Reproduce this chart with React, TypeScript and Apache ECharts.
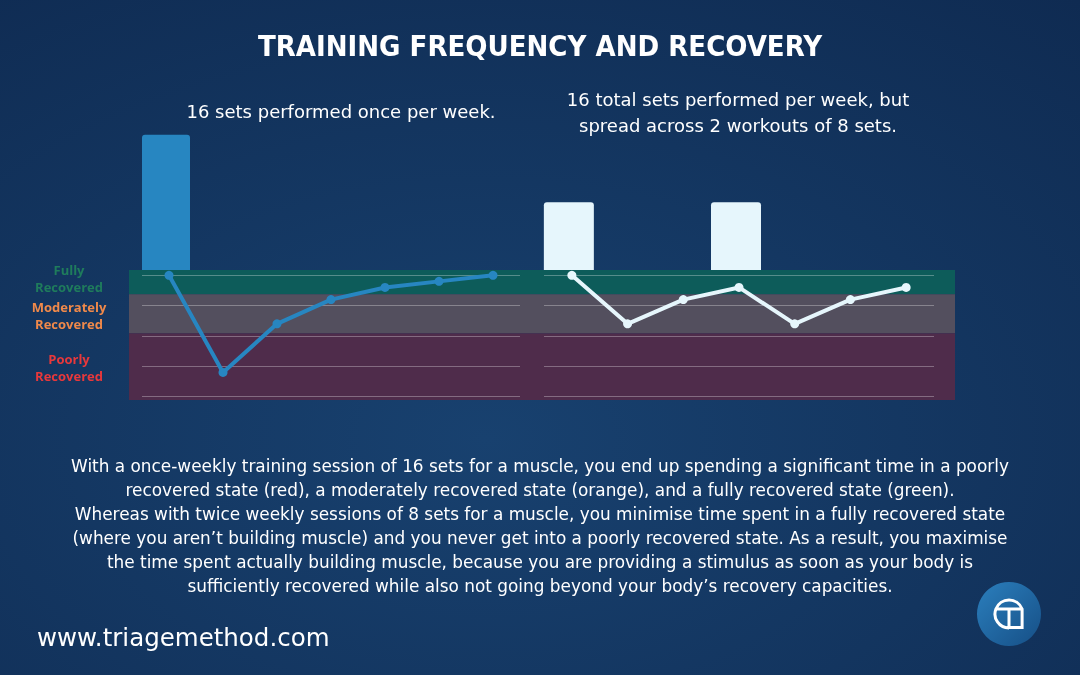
import React, { useEffect, useRef } from "react";
import * as echarts from "echarts";

// ---- data ----
const days = ["D1", "D2", "D3", "D4", "D5", "D6", "D7"];
const onceSets = [16, null, null, null, null, null, null];
const onceRecovery = [100, 20, 60, 80, 90, 95, 100];
const twiceSets = [8, null, null, 8, null, null, null];
const twiceRecovery = [100, 60, 80, 90, 60, 80, 90];
const zoneNames = ["Fully\nRecovered", "Moderately\nRecovered", "Poorly\nRecovered"];
const zoneUpper = [104, 84, 52];
const zoneLower = [84, 52, -3];

const titleText = "TRAINING FREQUENCY AND RECOVERY";
const leftCaption = "16 sets performed once per week.";
const rightCaption = "16 total sets performed per week, but\nspread across 2 workouts of 8 sets.";
const bodyLines = [
  "With a once-weekly training session of 16 sets for a muscle, you end up spending a significant time in a poorly",
  "recovered state (red), a moderately recovered state (orange), and a fully recovered state (green).",
  "Whereas with twice weekly sessions of 8 sets for a muscle, you minimise time spent in a fully recovered state",
  "(where you aren\u2019t building muscle) and you never get into a poorly recovered state. As a result, you maximise",
  "the time spent actually building muscle, because you are providing a stimulus as soon as your body is",
  "sufficiently recovered while also not going beyond your body\u2019s recovery capacities.",
];
const footerText = "www.triagemethod.com";

const zoneColors = ["#0d5c5a", "#534f5e", "#4f2c4b"];
const zoneTextColors = ["#1f7c5c", "#f0894a", "#e8383b"];
const BLUE = "#2786c1";
const PALE = "#e6f6fc";

const LOGO_D =
  "M -13.1 -5 A 14 14 0 0 1 13.1 -5 L 13.1 13.5 L 0 13.5 M 0 14 A 14 14 0 0 1 -13.1 -5 M -14 -5 L 14 -5 M 0 -5 L 0 14";

let logoRegistered = false;

export default function App() {
  const ref = useRef<HTMLDivElement>(null);
  useEffect(() => {
    if (!ref.current) return;
    if (!logoRegistered) {
      echarts.graphic.registerShape("logo", echarts.graphic.extendPath(LOGO_D, {}));
      logoRegistered = true;
    }
    const chart = echarts.init(ref.current, null, { renderer: "svg" });
    const font = "'DejaVu Sans', sans-serif";

    const lineGridTop = 275.3;
    const lineGridH = 121.4;

    const valueAxisCommon = (gridIndex: number) => ({
      type: "value",
      gridIndex,
      min: 0,
      max: 100,
      interval: 25,
      z: 3,
      axisLabel: { show: false },
      axisLine: { show: false },
      axisTick: { show: false },
      splitLine: { show: true, lineStyle: { color: "rgba(255,255,255,0.3)", width: 1 } },
    });
    const catAxis = (gridIndex: number) => ({
      type: "category",
      gridIndex,
      data: days,
      show: false,
    });

    const option: any = {
      animation: false,
      backgroundColor: {
        type: "radial",
        x: 0.45,
        y: 0.65,
        r: 0.85,
        colorStops: [
          { offset: 0, color: "#18416f" },
          { offset: 1, color: "#0f2b52" },
        ],
      },
      grid: [
        { left: 142, top: lineGridTop, width: 378, height: lineGridH },
        { left: 544, top: lineGridTop, width: 390, height: lineGridH },
        { left: 139, top: 134.7, width: 378, height: 135.3 },
        { left: 541, top: 134.7, width: 390, height: 135.3 },
        { left: 129, top: 270, width: 826, height: 130 },
      ],
      xAxis: [
        catAxis(0),
        catAxis(1),
        catAxis(2),
        catAxis(3),
        { type: "category", gridIndex: 4, data: days, show: false },
      ],
      yAxis: [
        valueAxisCommon(0),
        valueAxisCommon(1),
        { type: "value", gridIndex: 2, min: 0, max: 16, show: false },
        { type: "value", gridIndex: 3, min: 0, max: 16, show: false },
        { type: "value", gridIndex: 4, min: -3, max: 104, show: false },
      ],
      series: [
        {
          type: "line",
          xAxisIndex: 4,
          yAxisIndex: 4,
          data: [],
          z: -1,
          silent: true,
          markArea: {
            silent: true,
            z: -1,
            label: { show: false },
            data: zoneNames.map((n, i) => [
              { name: n, yAxis: zoneUpper[i], itemStyle: { color: zoneColors[i], opacity: 1 } },
              { yAxis: zoneLower[i] },
            ]),
          },
        },
        {
          type: "bar",
          xAxisIndex: 2,
          yAxisIndex: 2,
          data: onceSets,
          barWidth: 48,
          itemStyle: { color: BLUE, borderRadius: [3, 3, 0, 0] },
        },
        {
          type: "bar",
          xAxisIndex: 3,
          yAxisIndex: 3,
          data: twiceSets,
          barWidth: 50,
          itemStyle: { color: PALE, borderRadius: [3, 3, 0, 0] },
        },
        {
          type: "line",
          xAxisIndex: 0,
          yAxisIndex: 0,
          data: onceRecovery,
          symbol: "circle",
          symbolSize: 9,
          lineStyle: { color: BLUE, width: 4 },
          itemStyle: { color: BLUE },
          z: 5,
        },
        {
          type: "line",
          xAxisIndex: 1,
          yAxisIndex: 1,
          data: twiceRecovery,
          symbol: "circle",
          symbolSize: 9,
          lineStyle: { color: PALE, width: 4 },
          itemStyle: { color: PALE },
          z: 5,
        },
      ],
      graphic: [
        {
          type: "text",
          x: 540,
          y: 46,
          style: {
            text: titleText,
            fill: "#ffffff",
            font: "bold 29px 'DejaVu Sans Condensed', 'DejaVu Sans', sans-serif",
            textAlign: "center",
            textVerticalAlign: "middle",
          },
        },
        {
          type: "text",
          x: 341,
          y: 111,
          style: {
            text: leftCaption,
            fill: "#ffffff",
            font: `18px ${font}`,
            textAlign: "center",
            textVerticalAlign: "middle",
          },
        },
        {
          type: "text",
          x: 738,
          y: 112,
          style: {
            text: rightCaption,
            fill: "#ffffff",
            font: `18px ${font}`,
            lineHeight: 26,
            textAlign: "center",
            textVerticalAlign: "middle",
          },
        },
        ...zoneNames.map((n, i) => ({
          type: "text",
          x: 69,
          y: [278.5, 315.5, 367.5][i],
          style: {
            text: n,
            fill: zoneTextColors[i],
            font: `bold 13px 'Open Sans', sans-serif`,
            lineHeight: 17.6,
            textAlign: "center",
            textVerticalAlign: "middle",
          },
        })),
        {
          type: "text",
          x: 540,
          y: 526,
          style: {
            text: bodyLines.join("\n"),
            fill: "#ffffff",
            font: `16.9px ${font}`,
            lineHeight: 23.9,
            textAlign: "center",
            textVerticalAlign: "middle",
          },
        },
        {
          type: "text",
          x: 37,
          y: 637,
          style: {
            text: footerText,
            fill: "#ffffff",
            font: `24.5px ${font}`,
            textAlign: "left",
            textVerticalAlign: "middle",
          },
        },
        {
          type: "circle",
          shape: { cx: 1009, cy: 614, r: 32 },
          style: {
            fill: {
              type: "linear",
              x: 0,
              y: 0,
              x2: 1,
              y2: 1,
              colorStops: [
                { offset: 0, color: "#2b7fbd" },
                { offset: 1, color: "#164f86" },
              ],
            },
          },
        },
        {
          type: "logo",
          x: 1009,
          y: 614,
          scaleX: 1,
          scaleY: 1,
          style: { stroke: "#ffffff", lineWidth: 3, fill: null },
        },
      ],
    };
    chart.setOption(option);
    return () => chart.dispose();
  }, []);
  return (
    <div
      ref={ref}
      style={{ position: "fixed", left: 0, top: 0, width: 1080, height: 675 }}
    />
  );
}
